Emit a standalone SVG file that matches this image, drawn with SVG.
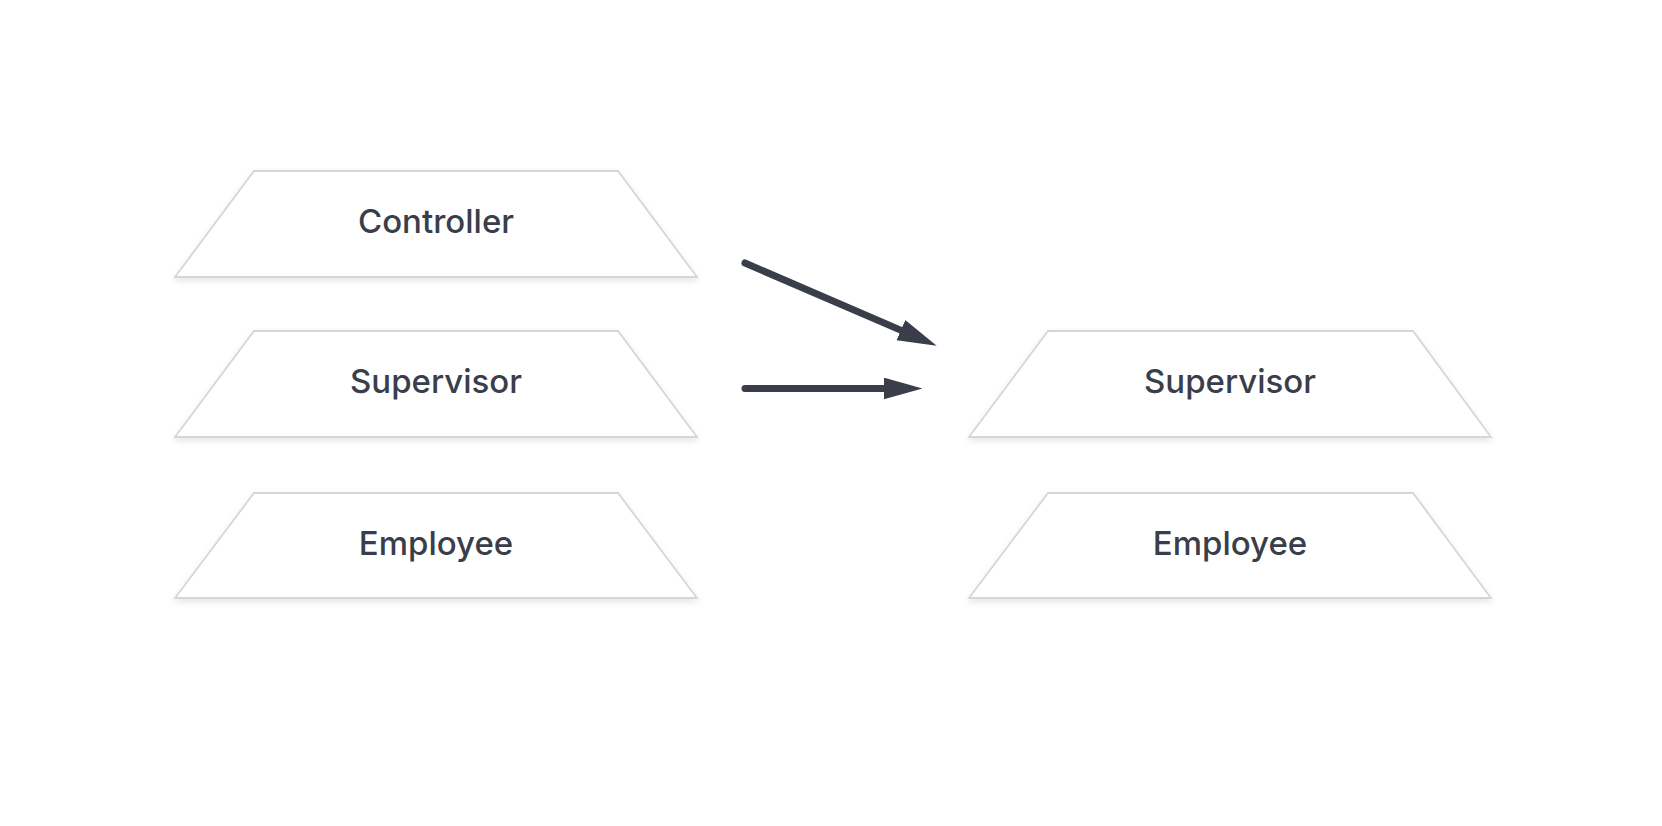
<svg xmlns="http://www.w3.org/2000/svg" width="1662" height="826" viewBox="0 0 1662 826">
<style>
.box{fill:#ffffff;stroke:#d6d6d6;stroke-width:1.8;filter:url(#sh)}
.lbl{font-family:Inter,"Noto Sans",sans-serif;font-size:33px;font-weight:500;fill:#3a3e4b;text-anchor:middle}
.conn{stroke:#3a3e4b;stroke-width:7;stroke-linecap:round;fill:none;marker-end:url(#ah)}
</style>
<defs>
<filter id="sh" x="-10%" y="-20%" width="120%" height="150%">
<feDropShadow dx="0" dy="3" stdDeviation="3" flood-color="#000" flood-opacity="0.10"/>
</filter>
<marker id="ah" markerUnits="userSpaceOnUse" markerWidth="40" markerHeight="24" refX="1" refY="11" orient="auto">
<path d="M0,0 L39,11 L0,22 Z" fill="#3a3e4b"/>
</marker>
</defs>
<rect width="1662" height="826" fill="#ffffff"/>
<g id="left-controller">
<polygon class="box" points="254,171 618,171 697,277 175,277"/>
<text class="lbl" x="436" y="233">Controller</text>
</g>
<g id="left-supervisor">
<polygon class="box" points="254,331 618,331 697,437 175,437"/>
<text class="lbl" x="436" y="393">Supervisor</text>
</g>
<g id="left-employee">
<polygon class="box" points="254,493 618,493 697,598 175,598"/>
<text class="lbl" x="436" y="555">Employee</text>
</g>
<g id="right-supervisor">
<polygon class="box" points="1048,331 1413,331 1491,437 969,437"/>
<text class="lbl" x="1230" y="393">Supervisor</text>
</g>
<g id="right-employee">
<polygon class="box" points="1048,493 1413,493 1491,598 969,598"/>
<text class="lbl" x="1230" y="555">Employee</text>
</g>
<g id="connectors">
<path class="conn" d="M745,263 L901.8,330.6"/>
<path class="conn" d="M745,388.5 L884.5,388.5"/>
</g>
</svg>
